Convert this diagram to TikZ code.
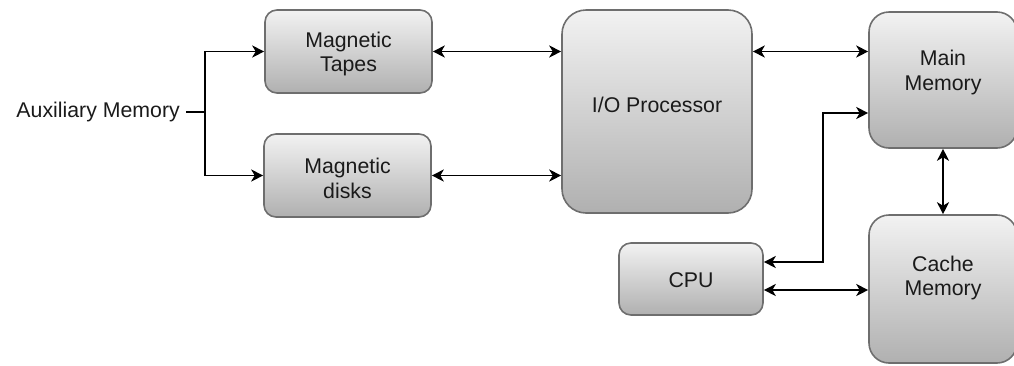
\documentclass[tikz,border=0pt]{standalone}
\usepackage{fontspec}
\setmainfont{Liberation Sans}
\usetikzlibrary{arrows.meta,calc}
\definecolor{boxtop}{HTML}{F2F2F2}
\definecolor{boxbot}{HTML}{B0B0B0}
\definecolor{boxline}{HTML}{6E6E6E}
\definecolor{ink}{HTML}{1A1A1A}
\tikzset{
  lbl/.style={font=\fontsize{21.3}{24.5}\selectfont, text=ink, align=center},
  blk/.style={draw=boxline, line width=1.6pt, rounded corners=12pt, top color=boxtop, bottom color=boxbot, inner sep=0pt},
  tip/.tip={Stealth[length=12pt,width=12pt,inset=3.5pt]},
  arr/.style={line width=1.9pt, draw=black, tip-tip},
  farr/.style={line width=1.9pt, draw=black, -tip},
  wire/.style={line width=1.9pt, draw=black},
}
\begin{document}
\begin{tikzpicture}[x=1pt,y=-1pt]
\useasboundingbox (0,0) rectangle (1014,365);
\clip (0,0) rectangle (1014,365);
\node[blk, minimum width=167pt, minimum height=83pt,
  label={[lbl, yshift=-2.5pt]center:Magnetic\\Tapes}] (tapes) at (348.5,51.5) {};
\node[blk, minimum width=167pt, minimum height=83pt,
  label={[lbl, yshift=-3pt]center:Magnetic\\disks}] (disks) at (347.5,175.5) {};
\node[blk, rounded corners=24pt, minimum width=190pt, minimum height=203pt,
  label={[lbl, yshift=7pt]center:I/O Processor}] (io) at (657,111.5) {};
\node[blk, rounded corners=20pt, minimum width=148pt, minimum height=136pt,
  label={[lbl, yshift=7.5pt]center:Main\\Memory}] (main) at (943,80) {};
\node[blk, rounded corners=20pt, minimum width=148pt, minimum height=148pt,
  label={[lbl, yshift=11pt]center:Cache\\Memory}] (cache) at (943,289) {};
\node[blk, minimum width=144pt, minimum height=72pt,
  label={[lbl, yshift=-1pt]center:CPU}] (cpu) at (691,279) {};
\node[lbl, anchor=east, inner sep=0pt, inner xsep=6pt] (aux) at (186,112) {Auxiliary Memory};
\coordinate (split) at (205,112);
\draw[wire] (aux.east) -- (split);
\draw[farr] (split) |- (tapes.west);
\draw[farr] (split) |- (disks.west);
\draw[arr] (tapes.east) -- (tapes.east -| io.west);
\draw[arr] (disks.east) -- (disks.east -| io.west);
\draw[arr] (io.east |- tapes.east) -- (main.west |- tapes.east);
\draw[arr] (main.south) -- (cache.north);
\draw[arr] ([yshift=17pt]cpu.east) -- ++(59,0) |- ([yshift=-33pt]main.west);
\draw[arr] ([yshift=-11pt]cpu.east) -- ([yshift=-11pt]cpu.east -| cache.west);
\end{tikzpicture}
\end{document}
